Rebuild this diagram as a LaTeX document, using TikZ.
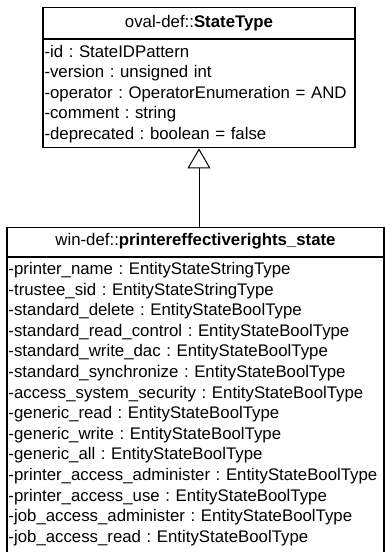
\documentclass[tikz,border=0pt]{standalone}
\usepackage{fontspec}
\setmainfont{Liberation Sans}
\usepackage{tikz}
\usetikzlibrary{arrows.meta,positioning}
\frenchspacing
\hyphenpenalty=10000
\exhyphenpenalty=10000

\begin{document}
\begin{tikzpicture}[
    x=1pt, y=1pt,
    classhead/.style={rectangle, draw=black, line width=1.2pt, inner sep=0pt, font=\fontsize{16.8pt}{20.5pt}\selectfont},
    classbody/.style={rectangle, draw=black, line width=1.2pt, inner xsep=1.5pt, align=left, font=\fontsize{16.8pt}{20.5pt}\selectfont},
    inherit/.style={-{Triangle[open, length=20pt, width=23pt]}, line width=1pt}
]
    \useasboundingbox (0,0) rectangle (385,-552);
    \clip (0,0) rectangle (385,-552);

    % parent class
    \node[classhead, minimum width=312pt, minimum height=31pt, anchor=north] (statetype) at (199,-7) {oval-def::\textbf{StateType}};
    \node[classbody, minimum width=312pt, text width=309pt, inner ysep=0pt, minimum height=108pt, anchor=north] (stateattr) at (statetype.south) {%
        -id : StateIDPattern\\
        -version : unsigned int\\
        -operator : OperatorEnumeration = AND\\
        -comment : string\\
        -deprecated : boolean = false};

    % derived class
    \node[classhead, minimum width=377pt, minimum height=29pt, anchor=north] (printerstate) at (195.5,-226.5) {win-def::\textbf{printereffectiverights\_state}};
    \node[classbody, minimum width=377pt, text width=374pt, inner ysep=5pt, text depth=310pt, anchor=north,
          font=\fontsize{16.8pt}{20.6pt}\selectfont] (printerattr) at (printerstate.south) {%
        -printer\_name : EntityStateStringType\\
        -trustee\_sid : EntityStateStringType\\
        -standard\_delete : EntityStateBoolType\\
        -standard\_read\_control : EntityStateBoolType\\
        -standard\_write\_dac : EntityStateBoolType\\
        -standard\_synchronize : EntityStateBoolType\\
        -access\_system\_security : EntityStateBoolType\\
        -generic\_read : EntityStateBoolType\\
        -generic\_write : EntityStateBoolType\\
        -generic\_all : EntityStateBoolType\\
        -printer\_access\_administer : EntityStateBoolType\\
        -printer\_access\_use : EntityStateBoolType\\
        -job\_access\_administer : EntityStateBoolType\\
        -job\_access\_read : EntityStateBoolType};

    % generalization
    \draw[inherit] (printerstate.north -| stateattr.south) -- (stateattr.south);
\end{tikzpicture}
\end{document}
